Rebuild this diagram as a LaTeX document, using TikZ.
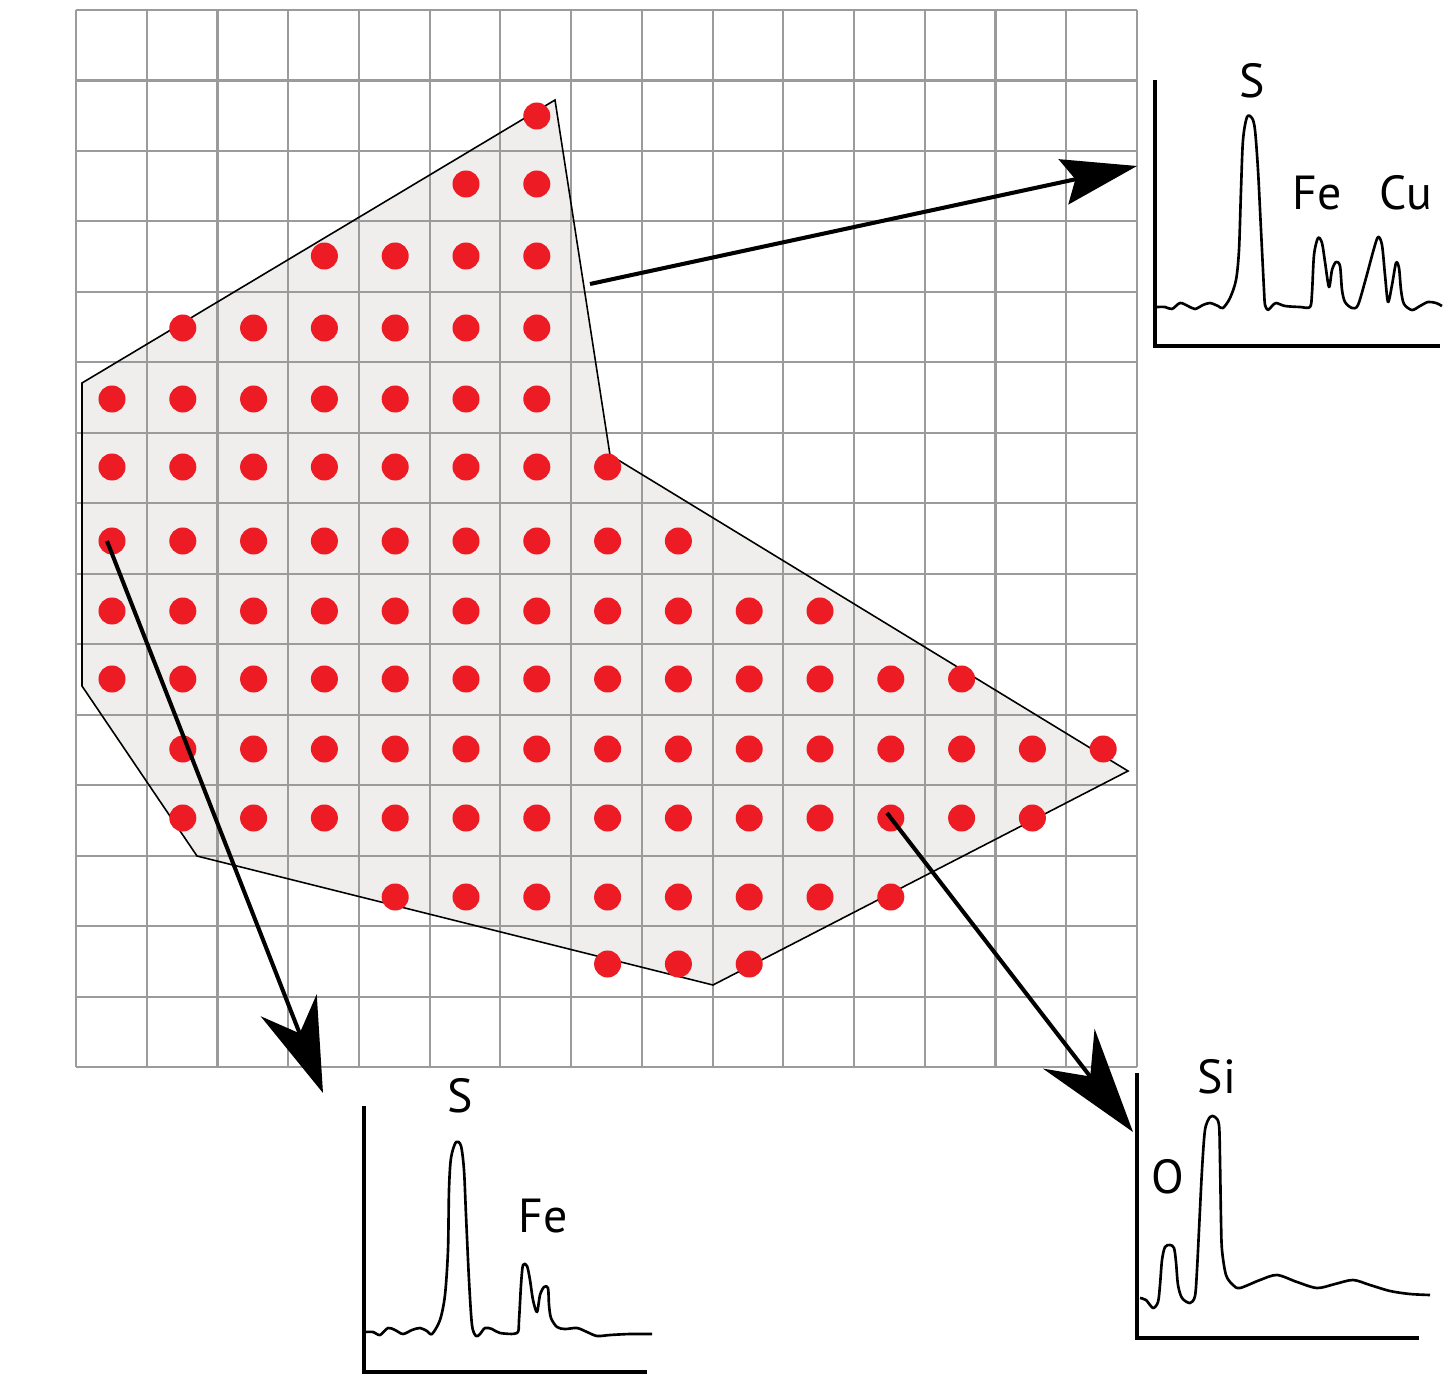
\documentclass[tikz,border=0pt]{standalone}
\usepackage{fontspec}
\setmainfont{PT Sans}
\usetikzlibrary{arrows.meta}
\definecolor{dotred}{RGB}{237,28,36}
\definecolor{regiongray}{RGB}{239,238,236}
\definecolor{gridgray}{RGB}{155,155,155}

\begin{document}
\begin{tikzpicture}[x=0.01cm, y=-0.01cm, every node/.style={font=\fontsize{13.6}{16}\selectfont, inner sep=0pt, anchor=base},
	gridline/.style={gridgray, line width=0.6pt},
	region/.style={fill=regiongray},
	outline/.style={black, line width=0.45pt},
	dot/.style={fill=dotred},
	probe/.style={line width=1.15pt},
	axis/.style={line width=0.9pt},
	trace/.style={line width=0.75pt, line join=round}]
	\useasboundingbox (0,0) rectangle (1454,1400);
	% sample region
	\fill[region] (555,100) -- (610,455) -- (1128,771) -- (713,985) -- (197,856) -- (82,686) -- (82,383) -- cycle;
	\foreach \i in {0,...,15} {
		\draw[gridline] (76+70.73*\i,10) -- (76+70.73*\i,1067);
		\draw[gridline] (76,10+70.47*\i) -- (1137,10+70.47*\i);
	}
	\draw[outline] (555,100) -- (610,455) -- (1128,771) -- (713,985) -- (197,856) -- (82,686) -- (82,383) -- cycle;
	% measurement points
	\foreach \y/\from/\to in {116/6/6, 184/5/6, 256/3/6, 328/1/6, 399/0/6, 467/0/7, 541/0/8, 611/0/10, 679/0/12, 749/1/14, 818/1/13, 897/4/11, 964/7/9}
		\foreach \k in {\from,...,\to}
			\fill[dot] (112+70.8*\k,\y) circle[radius=0.135cm];
	% probes
	\coordinate (s1) at (590,284);
	\coordinate (t1) at (1137,166);
	\coordinate (s2) at (107,541);
	\coordinate (t2) at (323,1093);
	\coordinate (s3) at (887,813);
	\coordinate (t3) at (1133,1132);
	\draw[probe, -{Stealth[length=0.75cm, width=0.46cm, inset=0.12cm]}] (s1) -- (t1);
	\draw[probe, -{Stealth[length=0.94cm, width=0.6cm, inset=0.3cm]}] (s2) -- (t2);
	\draw[probe, -{Stealth[length=1.05cm, width=0.65cm, inset=0.35cm]}] (s3) -- (t3);
	% spectrum top right
	\draw[axis] (1155,80) -- (1155,346) -- (1440,346);
	\draw[trace] plot[smooth, tension=0.5] coordinates {(1157,307) (1165,307) (1172,309) (1180,303) (1188,306) (1195,309) (1203,305) (1210,303) (1218,306) (1223,308) (1230,298) (1236,280) (1239,250) (1241,190) (1243,140) (1247,117) (1252,118) (1255,130) (1258,170) (1261,230) (1264,290) (1265,305) (1268,310) (1272,306) (1276,303) (1285,306) (1300,307) (1310,307) (1312,293) (1314,255) (1318,238) (1322,243) (1325,262) (1329,287) (1332,270) (1336,262) (1340,266) (1342,290) (1345,302) (1352,308) (1358,305) (1366,278) (1373,252) (1378,237) (1382,245) (1385,275) (1388,302) (1392,285) (1396,263) (1399,268) (1401,290) (1404,304) (1412,310) (1420,306) (1428,302) (1436,303) (1442,306)};
	\node (S1) at (1252,98) {S};
	\node (Fe1) at (1317,210) {Fe};
	\node (Cu1) at (1406,210) {Cu};
	% spectrum bottom left
	\draw[axis] (364,1106) -- (364,1372) -- (647,1372);
	\draw[trace] plot[smooth, tension=0.5] coordinates {(365,1332) (373,1332) (380,1335) (388,1328) (395,1330) (403,1334) (412,1330) (420,1328) (427,1331) (432,1334) (440,1320) (445,1295) (448,1250) (449,1190) (451,1158) (456,1142) (461,1146) (464,1170) (466,1215) (469,1280) (472,1325) (476,1336) (480,1334) (485,1328) (492,1329) (500,1333) (517,1333) (519,1320) (521,1285) (523,1265) (527,1266) (530,1280) (533,1300) (537,1312) (540,1295) (544,1287) (548,1288) (549,1305) (551,1318) (557,1327) (565,1329) (577,1328) (587,1332) (597,1336) (610,1335) (630,1334) (652,1334)};
	\node (S2) at (460,1112) {S};
	\node (Fe2) at (543,1232) {Fe};
	% spectrum bottom right
	\draw[axis] (1137,1073) -- (1137,1338) -- (1419,1338);
	\draw[trace] plot[smooth, tension=0.5] coordinates {(1140,1298) (1146,1300) (1153,1308) (1158,1302) (1160,1285) (1162,1260) (1165,1247) (1170,1245) (1174,1248) (1176,1262) (1178,1285) (1182,1298) (1190,1303) (1195,1296) (1197,1270) (1199,1230) (1202,1170) (1205,1130) (1210,1117) (1215,1117) (1219,1125) (1220,1160) (1221,1220) (1222,1250) (1226,1275) (1233,1285) (1240,1288) (1260,1280) (1277,1275) (1297,1282) (1317,1288) (1335,1284) (1353,1280) (1370,1285) (1390,1291) (1410,1294) (1430,1295)};
	\node (Si3) at (1217,1093) {Si};
	\node (O3) at (1168,1193) {O};
\end{tikzpicture}
\end{document}
